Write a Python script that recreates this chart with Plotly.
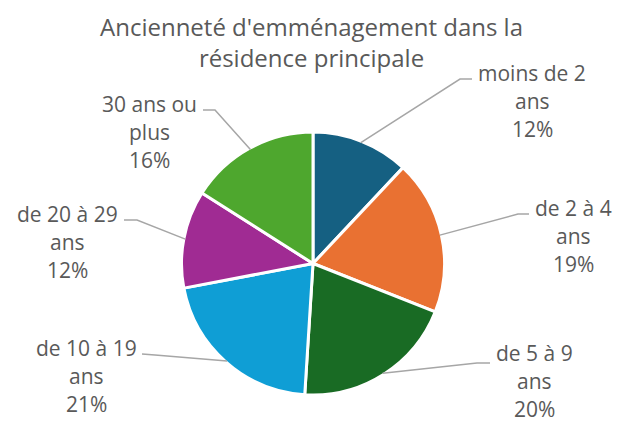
import math
import plotly.graph_objects as go

# ---- data ----
categories = ["moins de 2 ans", "de 2 à 4 ans", "de 5 à 9 ans",
              "de 10 à 19 ans", "de 20 à 29 ans", "30 ans ou plus"]
label_lines = [["moins de 2", "ans"], ["de 2 à 4", "ans"], ["de 5 à 9", "ans"],
               ["de 10 à 19", "ans"], ["de 20 à 29", "ans"], ["30 ans ou", "plus"]]
values = [12, 19, 20, 21, 12, 16]
colors = ["#156082", "#E97132", "#196B24", "#0F9ED5", "#A02B93", "#4EA72E"]
title = "Ancienneté d'emménagement dans la<br>résidence principale"

# ---- layout constants (pixels) ----
W, H = 622, 422
CX, CY, R = 313, 263.5, 131.5
# label placement: elbow point, end of horizontal segment, text block centre x,
# vertical offset of first text line relative to the horizontal segment
label_elbow = [(460, 79), (518, 214), (477, 363), (155, 355), (137, 220), (215, 110)]
label_end = [(472, 79), (529, 214), (490, 363), (142, 354), (124, 220), (203, 110)]
label_cx = [532, 573, 534, 86, 67, 149]
label_dy = [-6, -6, -10, -6, -6, -6]
LINE_GAP = 28

FONT = "Open Sans"
TXT = "#595959"
LINE = "#A6A6A6"

def px(x):
    return x / W

def py(y):
    return 1 - y / H

fig = go.Figure(go.Pie(
    labels=categories, values=values, sort=False, direction="clockwise",
    rotation=0, textinfo="none", hoverinfo="label+percent",
    marker=dict(colors=colors, line=dict(color="white", width=3)),
    domain=dict(x=[px(CX - R), px(CX + R)], y=[py(CY + R), py(CY - R)]),
    showlegend=False,
))

total = sum(values)
cum = 0
shapes = []
annotations = []
for i, v in enumerate(values):
    mid = (cum + v / 2) / total * 2 * math.pi
    cum += v
    sx = CX + (R - 1.5) * math.sin(mid)
    sy = CY - (R - 1.5) * math.cos(mid)
    ex, ey = label_elbow[i]
    hx, hy = label_end[i]
    shapes.append(dict(type="path", xref="paper", yref="paper",
                       path=f"M {px(sx)} {py(sy)} L {px(ex)} {py(ey)} L {px(hx)} {py(hy)}",
                       line=dict(color=LINE, width=1.5)))
    pct = f"{round(v / total * 100)}%"
    lines = label_lines[i] + [pct]
    for k, t in enumerate(lines):
        annotations.append(dict(
            xref="paper", yref="paper",
            x=px(label_cx[i]), y=py(hy + label_dy[i] + k * LINE_GAP),
            xanchor="center", yanchor="middle", align="center", borderpad=0,
            text=t, showarrow=False,
            font=dict(family=FONT, size=21, color=TXT),
        ))

annotations.append(dict(
    xref="paper", yref="paper", x=px(311), y=py(42.5),
    xanchor="center", yanchor="middle", align="center", text=title, showarrow=False,
    font=dict(family=FONT, size=24, color=TXT),
))

fig.update_layout(
    width=W, height=H, margin=dict(l=0, r=0, t=0, b=0),
    paper_bgcolor="white", plot_bgcolor="white",
    shapes=shapes, annotations=annotations,
)

fig.write_html("out.html", config={"displayModeBar": False},
               post_script="document.body.style.margin='0';")
